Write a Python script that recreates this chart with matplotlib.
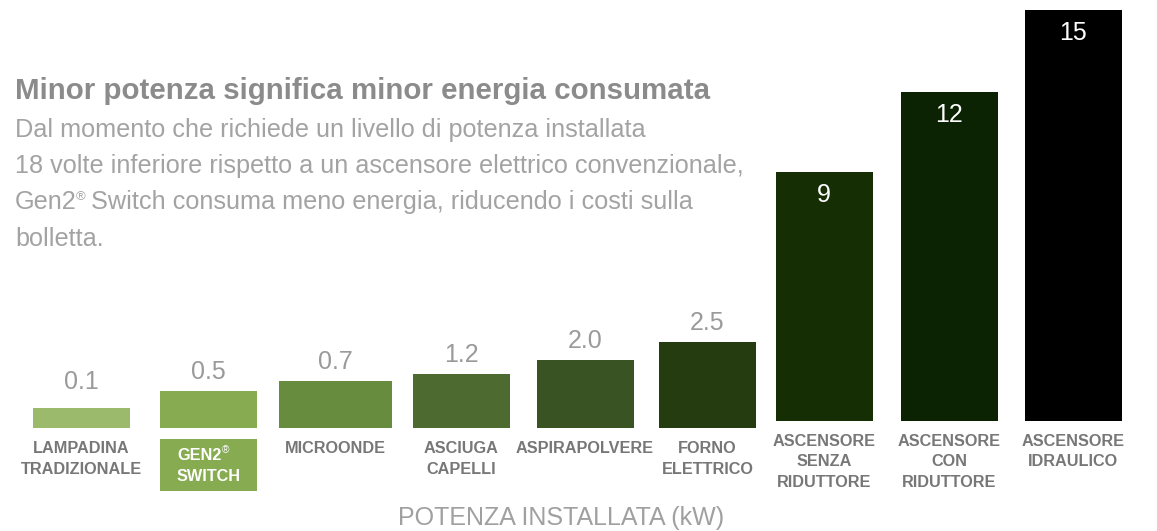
import matplotlib
matplotlib.use("Agg")
import matplotlib.pyplot as plt

# ---------------- data ----------------
categories = [
    ["LAMPADINA", "TRADIZIONALE"],
    ["GEN2", "SWITCH"],
    ["MICROONDE"],
    ["ASCIUGA", "CAPELLI"],
    ["ASPIRAPOLVERE"],
    ["FORNO", "ELETTRICO"],
    ["ASCENSORE", "SENZA", "RIDUTTORE"],
    ["ASCENSORE", "CON", "RIDUTTORE"],
    ["ASCENSORE", "IDRAULICO"],
]
value_labels = ["0.1", "0.5", "0.7", "1.2", "2.0", "2.5", "9", "12", "15"]
# drawn (non-proportional) bar heights as shown in the infographic
bar_heights = [20, 37, 47, 54, 68, 86, 249, 329, 411]
title = "Minor potenza significa minor energia consumata"
body_lines = [
    "Dal momento che richiede un livello di potenza installata",
    "18 volte inferiore rispetto a un ascensore elettrico convenzionale,",
    None,  # Gen2® line built below
    "bolletta.",
]
body_gen_line = ("Gen2", "®", " Switch consuma meno energia, riducendo i costi sulla")
axis_title = "POTENZA INSTALLATA (kW)"

# ---------------- layout / style ----------------
W, H = 1157, 531
x_centers = [81.5, 208.5, 335.5, 461.5, 585, 707.5, 824, 949, 1073]
bar_widths = [97, 97, 113, 97, 97, 97, 97, 97, 97]
baselines = [428, 428, 428, 428, 428, 428, 421, 421, 421]
colors = ["#9cba6c", "#87ab50", "#688c3e", "#4d6b30", "#395323",
          "#253c10", "#162e04", "#0b2203", "#000000"]
inside = [False] * 6 + [True] * 3
FONT = "Liberation Sans"

def pt(px):
    return px * 72.0 / 100.0

fig = plt.figure(figsize=(W / 100, H / 100), dpi=100)
ax = fig.add_axes([0, 0, 1, 1])
ax.set_xlim(0, W)
ax.set_ylim(H, 0)
ax.axis("off")

ax.bar(x_centers, [-h for h in bar_heights], width=bar_widths,
       bottom=baselines, color=colors, align="center", linewidth=0)

for i, (xc, h, b, lab) in enumerate(zip(x_centers, bar_heights, baselines, value_labels)):
    top = b - h
    if inside[i]:
        ax.text(xc, top + 30.5, lab, ha="center", va="baseline",
                fontsize=pt(25), color="white", family=FONT)
    else:
        gap = 19 if i == 0 else 12
        ax.text(xc, top - gap, lab, ha="center", va="baseline",
                fontsize=pt(25), color="#9a9a9a", family=FONT)

# category labels
for i, (xc, lines) in enumerate(zip(x_centers, categories)):
    first = 453 if baselines[i] == 428 else 446
    if i == 1:
        # highlighted box
        ax.add_patch(plt.Rectangle((160, 439), 97, 52, color=colors[1], lw=0))
        ax.text(221.5, 460, lines[0], ha="right", va="baseline",
                fontsize=pt(16.2), color="white", family=FONT, fontweight="bold")
        ax.text(222, 453, "®", ha="left", va="baseline",
                fontsize=pt(10), color="white", family=FONT)
        ax.text(208.5, 481, lines[1], ha="center", va="baseline",
                fontsize=pt(16.2), color="white", family=FONT, fontweight="bold")
        continue
    for k, ln in enumerate(lines):
        ax.text(xc, first + 20.5 * k, ln, ha="center", va="baseline",
                fontsize=pt(16.2), color="#777777", family=FONT, fontweight="bold")

# title and body text
ax.text(15, 99, title, ha="left", va="baseline", fontsize=pt(29.5),
        color="#8b8b8b", family=FONT, fontweight="bold")
body_base = [137, 173, 209, 246]
body_kw = dict(ha="left", va="baseline", fontsize=pt(25.3), color="#a3a3a3", family=FONT)
for yb, ln in zip(body_base, body_lines):
    if ln is not None:
        ax.text(15, yb, ln, **body_kw)

renderer = fig.canvas.get_renderer()
t_gen = ax.text(15, body_base[2], body_gen_line[0], **body_kw)
bb = t_gen.get_window_extent(renderer=renderer)
x_end = ax.transData.inverted().transform((bb.x1, bb.y0))[0]
reg = ax.text(x_end - 1.5, body_base[2] - 9, body_gen_line[1], ha="left", va="baseline",
              fontsize=pt(13), color="#a3a3a3", family=FONT)
bb2 = reg.get_window_extent(renderer=renderer)
x_end2 = ax.transData.inverted().transform((bb2.x1, bb2.y0))[0]
ax.text(x_end2 - 1, body_base[2], body_gen_line[2], **body_kw)

ax.text(561, 525, axis_title, ha="center", va="baseline", fontsize=pt(25),
        color="#a0a0a0", family=FONT)

fig.savefig("out.png", dpi=100, facecolor="white")
